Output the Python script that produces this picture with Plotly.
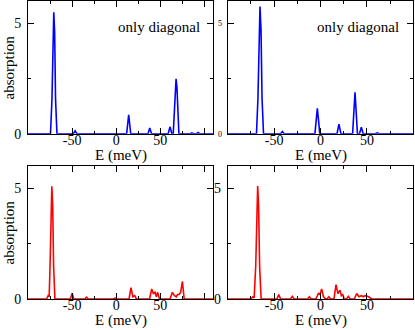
import plotly.graph_objects as go

# spectra: energy (meV) and absorption
# top left, only diagonal
e_tl = [-100, -74.5, -72.8, -71.8, -70.8, -69.8, -68.8, -67.2,
        -48.5, -46.6, -44.7,
        11.8, 13.0, 14.1, 15.2, 16.4,
        36.0, 38.0, 40.0,
        58.8, 61.0, 63.0, 64.6, 65.8, 66.8, 67.8, 68.8, 69.8, 71.0,
        84.0, 85.7, 87.5, 91.0, 92.8, 94.5, 110]
a_tl = [0, 0, 1.6, 4.6, 5.49, 4.6, 1.6, 0,
        0, 0.13, 0,
        0, 0.45, 0.85, 0.45, 0,
        0, 0.26, 0,
        0, 0.31, 0, 0, 1.1, 2.1, 2.48, 2.1, 1.1, 0,
        0, 0.04, 0, 0, 0.05, 0, 0]

# top right, only diagonal
e_tr = [-100, -69.0, -67.4, -66.3, -65.2, -64.1, -63.0, -61.4,
        -43.0, -41.1, -39.2,
        -6.0, -4.7, -3.4, -2.1, -0.8,
        17.8, 19.9, 22.0,
        34.6, 35.9, 37.2, 38.5, 39.8, 42.0, 44.0, 46.0,
        59.0, 61.2, 63.4, 100]
a_tr = [0, 0, 1.6, 4.7, 5.75, 4.7, 1.6, 0,
        0, 0.1, 0,
        0, 0.6, 1.15, 0.6, 0,
        0, 0.43, 0,
        0, 0.95, 1.87, 0.95, 0, 0, 0.29, 0,
        0, 0.04, 0, 0]

# bottom left, full
e_bl = [-100, -79.0, -77.2, -76.0, -75.0, -74.0, -73.0, -72.0, -71.0, -69.5,
        -52.0, -50.0, -48.0,
        -35.7, -33.7, -31.7,
        -3.5, -1.5, 0.5,
        14.5, 16.7, 18.8, 21.0, 23.0,
        37.8, 40.2, 42.0, 44.0, 45.5, 47.0, 49.0,
        61.0, 63.6, 66.0, 68.0, 69.5, 71.2, 73.0, 75.0, 77.0, 110]
a_bl = [0, 0, 0.15, 0.1, 1.5, 4.2, 5.09, 4.2, 1.5, 0,
        0, 0.26, 0,
        0, 0.08, 0,
        0, 0.04, 0,
        0, 0.51, 0.1, 0.15, 0,
        0, 0.45, 0.25, 0.3, 0.1, 0.3, 0,
        0, 0.3, 0.15, 0.1, 0.2, 0.2, 0.3, 0.79, 0, 0]

# bottom right, full
e_br = [-100, -75.0, -73.0, -71.5, -69.8, -68.7, -67.7, -66.7, -65.6, -64.0,
        -47.0, -45.0, -43.0,
        -32.4, -30.4, -28.4,
        -14.0, -12.0, -10.0,
        -5.0, -2.3, -0.5, 1.2, 3.2, 5.5, 7.0, 9.0, 11.0,
        14.5, 16.7, 18.8, 21.0, 22.5, 24.0, 25.5, 28.0, 30.0, 32.0,
        36.5, 39.0, 41.5, 44.0, 46.0, 48.0, 50.0, 52.0, 55.0, 100]
a_br = [0, 0, 0.1, 0.05, 1.5, 4.2, 5.1, 4.2, 1.5, 0,
        0, 0.2, 0,
        0, 0.12, 0,
        0, 0.1, 0,
        0, 0.25, 0.2, 0.45, 0.1, 0, 0, 0.1, 0,
        0, 0.65, 0.25, 0.4, 0.15, 0.2, 0, 0, 0.12, 0,
        0, 0.25, 0.1, 0.15, 0.1, 0.15, 0.12, 0.1, 0, 0]

x_ticks = [-100, -50, 0, 50, 100]
x_text = ['', '-50', '0', '50', '']
y_ticks = [0, 5]

FONT = 'Liberation Serif, Times New Roman, serif'
W, H = 415, 330

fig = go.Figure()
fig.add_trace(go.Scatter(x=e_tl, y=a_tl, mode='lines', line=dict(color='#0000ff', width=1.6),
                         xaxis='x', yaxis='y', showlegend=False))
fig.add_trace(go.Scatter(x=e_tr, y=a_tr, mode='lines', line=dict(color='#0000ff', width=1.6),
                         xaxis='x2', yaxis='y2', showlegend=False))
fig.add_trace(go.Scatter(x=e_bl, y=a_bl, mode='lines', line=dict(color='#ff0000', width=1.6),
                         xaxis='x3', yaxis='y3', showlegend=False))
fig.add_trace(go.Scatter(x=e_br, y=a_br, mode='lines', line=dict(color='#ff0000', width=1.6),
                         xaxis='x4', yaxis='y4', showlegend=False))


def xax(dom, rng, anchor):
    return dict(domain=dom, range=rng, anchor=anchor, showgrid=False, zeroline=False,
                automargin=False,
                showline=True, linecolor='black', linewidth=1, mirror='ticks',
                ticks='inside', ticklen=6, tickcolor='black', ticklabelstandoff=-7,
                tickvals=x_ticks, ticktext=x_text, tickfont=dict(family=FONT, size=14, color='black'),
                minor=dict(tickvals=[-75, -25, 25, 75], ticks='inside', ticklen=3, tickcolor='black'))


def yax(dom, anchor, size):
    return dict(domain=dom, range=[0, 6], anchor=anchor, showgrid=False, zeroline=False,
                automargin=False,
                showline=True, linecolor='black', linewidth=1, mirror='ticks',
                ticks='inside', ticklen=6, tickcolor='black', tickvals=y_ticks,
                tickfont=dict(family=FONT, size=size, color='black'), ticklabelstandoff=3,
                minor=dict(tickvals=[2.5], ticks='inside', ticklen=3, tickcolor='black'))


def label(text, px, py, angle=0):
    # text placed by pixel centre
    return dict(text=text, x=px / W, y=1 - py / H, xref='paper', yref='paper',
                xanchor='center', yanchor='middle', textangle=angle,
                showarrow=False, font=dict(family=FONT, size=15, color='black'))


left_dom = [28 / W, 213.3 / W]
right_dom = [227.7 / W, 413.3 / W]
top_dom = [1 - 133.7 / H, 1 - 1 / H]
bot_dom = [1 - 299 / H, 1 - 166 / H]

fig.update_layout(
    width=W, height=H,
    margin=dict(l=0, r=0, t=0, b=0),
    paper_bgcolor='white', plot_bgcolor='white',
    font=dict(family=FONT, color='black'),
    xaxis=xax(left_dom, [-100, 110], 'y'),
    yaxis=yax(top_dom, 'x', 14),
    xaxis2=xax(right_dom, [-100, 100], 'y2'),
    yaxis2=yax(top_dom, 'x2', 8),
    xaxis3=xax(left_dom, [-100, 110], 'y3'),
    yaxis3=yax(bot_dom, 'x3', 14),
    xaxis4=xax(right_dom, [-100, 100], 'y4'),
    yaxis4=yax(bot_dom, 'x4', 14),
    annotations=[
        label('only diagonal', 159, 27),
        label('only diagonal', 358, 27),
        label('E (meV)', 120.6, 155.5),
        label('E (meV)', 320.5, 155.5),
        label('E (meV)', 120.6, 320),
        label('E (meV)', 320.5, 320),
        label('absorption', 8, 67.5, -90),
        label('absorption', 8, 232.5, -90),
    ],
)

# browser puts 8px round the body by default; drop it so the figure fills the window
fig.write_html("out.html", config={'displayModeBar': False},
               post_script="document.body.style.margin='0px'; document.body.style.overflow='hidden';")
